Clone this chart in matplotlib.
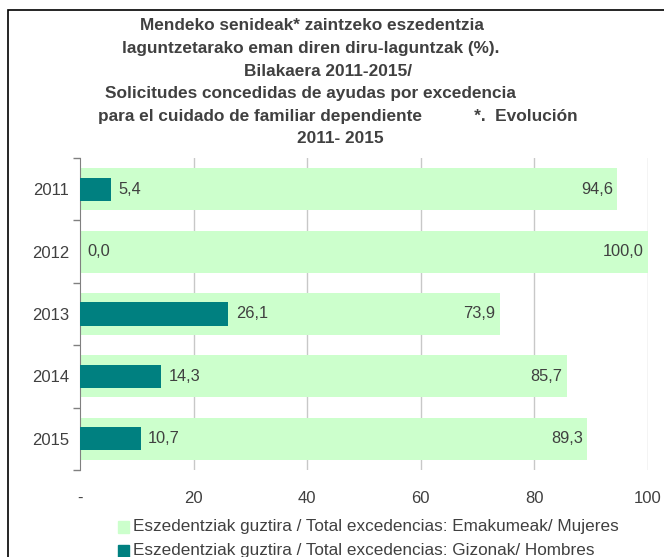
import matplotlib
matplotlib.use("Agg")

import matplotlib.pyplot as plt
import numpy as np
from matplotlib.patches import Rectangle

plt.rcParams["font.family"] = ["Liberation Sans", "DejaVu Sans"]

YEARS = ["2011", "2012", "2013", "2014", "2015"]
WOMEN = [94.6, 100.0, 73.9, 85.7, 89.3]
MEN = [5.4, 0.0, 26.1, 14.3, 10.7]
X_TICKS = [0, 20, 40, 60, 80, 100]
X_LABELS = ["-", "20", "40", "60", "80", "100"]
TITLE_LINES = [
    "Mendeko senideak* zaintzeko eszedentzia",
    "laguntzetarako eman diren diru-laguntzak (%).",
    "Bilakaera 2011-2015/",
    "Solicitudes concedidas de ayudas por excedencia",
    "para el cuidado de familiar dependiente           *.  Evolución",
    "2011- 2015",
]
# each title line sits on its own centre in the source (trailing spaces in the original)
TITLE_CENTERS = [312, 311, 328, 310, 338, 340]
LEG_WOMEN = "Eszedentziak guztira / Total excedencias: Emakumeak/ Mujeres"
LEG_MEN = "Eszedentziak guztira / Total excedencias: Gizonak/ Hombres"

GREEN = "#ccffcc"
TEAL = "#008080"
TXT = "#404040"

W, H = 664, 557
fig = plt.figure(figsize=(W / 100, H / 100), dpi=100)

# outer chart border (bottom/right fall outside the image)
fig.patches.append(Rectangle((8 / W, -0.1), 2, 1 - 10 / H + 0.1, transform=fig.transFigure,
                             fill=False, edgecolor="black", linewidth=1.2))

ax = fig.add_axes([80 / W, 1 - 470 / H, (648 - 80) / W, (470 - 158) / H])
y = np.arange(len(YEARS))
ax.barh(y, WOMEN, height=0.67, color=GREEN, zorder=2)
ax.barh(y, MEN, height=0.37, color=TEAL, zorder=3)

for yi, m, w in zip(y, MEN, WOMEN):
    ax.text(m + 1.3, yi, f"{m:.1f}".replace(".", ","), va="center", ha="left",
            fontsize=11.8, color=TXT, zorder=4)
    ax.text(w - 0.8, yi, f"{w:.1f}".replace(".", ","), va="center", ha="right",
            fontsize=11.8, color=TXT, zorder=4)

ax.set_xlim(0, 100)
ax.set_ylim(len(YEARS) - 0.5, -0.5)
ax.set_xticks(X_TICKS)
ax.set_xticklabels(X_LABELS, fontsize=12, color=TXT)
ax.tick_params(axis="x", length=0, pad=15)
ax.set_yticks(y)
ax.set_yticklabels(YEARS, fontsize=12, color=TXT)
ax.tick_params(axis="y", which="major", length=0, pad=8)
ax.set_yticks(np.arange(len(YEARS) + 1) - 0.5, minor=True)
ax.tick_params(axis="y", which="minor", length=5, color="#808080", width=1)
for x in X_TICKS[1:]:
    ax.axvline(x, color="#c8c8c8", linewidth=1, zorder=1)
for s in ["top", "right", "bottom"]:
    ax.spines[s].set_visible(False)
ax.spines["left"].set_color("#808080")

for i, (line, cx) in enumerate(zip(TITLE_LINES, TITLE_CENTERS)):
    fig.text(cx / W, 1 - (26 + i * 22.5) / H, line, ha="center", va="center",
             fontsize=12.4, fontweight="bold", color=TXT)

# legend (second entry partly cut off at the bottom, as in the source)
fig.patches.append(Rectangle((118 / W, 1 - 533 / H), 11 / W, 12 / H,
                             transform=fig.transFigure, color=GREEN))
fig.text(133 / W, 1 - 527 / H, LEG_WOMEN, ha="left", va="center", fontsize=12.3, color=TXT)
fig.patches.append(Rectangle((118 / W, 1 - 557 / H), 11 / W, 12 / H,
                             transform=fig.transFigure, color=TEAL))
fig.text(133 / W, 1 - 550 / H, LEG_MEN, ha="left", va="center", fontsize=12.3, color=TXT)

fig.savefig("out.png", dpi=100)
